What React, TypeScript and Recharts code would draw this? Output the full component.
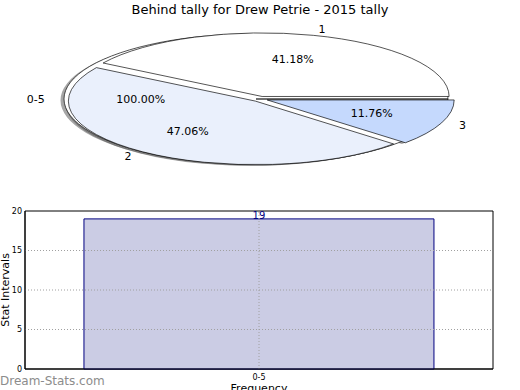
import React from "react"
import {
  PieChart,
  Pie,
  Cell,
  BarChart,
  Bar,
  XAxis,
  YAxis,
  ReferenceArea,
  ReferenceLine,
  LabelList,
} from "recharts"

// data
const sliceNames = ["1", "2", "3"]
const sliceValues = [7, 8, 2]
const sliceColors = ["#ffffff", "#eaf0fc", "#c5d9fd"]
const outerNames = ["0-5"]
const outerValues = [19]
const barCategories = ["0-5"]
const barValues = [19]
const yTicks = [0, 5, 10, 15, 20]

const innerData = sliceNames.map((name, i) => ({ name, value: sliceValues[i] }))
const outerData = outerNames.map((name, i) => ({ name, value: outerValues[i] }))
const barData = barCategories.map((name, i) => ({ name, count: barValues[i] }))

// ellipse geometry
const PIE_CX = 260
const PIE_CY = 99
const K = 0.34
const R_IN = 187
const R_OUT = 192
const E_IN = 7.7
const E_OUT = 4
const SH_DX = -3.5
const SH_DY = 1.3
const RAD = Math.PI / 180
const FONT = "'DejaVu Sans', sans-serif"

const total = sliceValues.reduce((a, b) => a + b, 0)
const mids: number[] = []
{
  let acc = 0
  sliceValues.forEach((v) => {
    mids.push(((acc + v / 2) / total) * 360)
    acc += v
  })
}

function makeLabel(r: number, e: number) {
  return (props: any) => {
    const { midAngle, percent, name } = props
    const c = Math.cos(midAngle * RAD)
    const s = Math.sin(midAngle * RAD)
    const ox = PIE_CX + e * c
    const oy = PIE_CY - K * e * s
    const lx = ox + 1.1 * r * c
    const ly = oy - K * 1.1 * r * s
    const px = ox + 0.6 * r * c
    const py = oy - K * 0.6 * r * s
    return (
      <g>
        <text x={lx} y={ly} textAnchor={c >= 0 ? "start" : "end"} dominantBaseline="central" fontSize={11} fill="#000" fontFamily={FONT}>
          {name}
        </text>
        <text x={px} y={py} textAnchor="middle" dominantBaseline="central" fontSize={11} fill="#000" fontFamily={FONT}>
          {(percent * 100).toFixed(2)}%
        </text>
      </g>
    )
  }
}

function PieShapes() {
  const cy = 260
  return (
    <PieChart width={520} height={520} margin={{ top: 0, right: 0, bottom: 0, left: 0 }}>
      {/* shadows */}
      <Pie
        data={outerData}
        dataKey="value"
        cx={PIE_CX - E_OUT + SH_DX}
        cy={cy + SH_DY / K}
        outerRadius={R_OUT}
        isAnimationActive={false}
        stroke="none"
      >
        {outerData.map((d) => (
          <Cell key={d.name} fill="#4d4d4d" fillOpacity={0.5} stroke="none" />
        ))}
      </Pie>
      {mids.map((m, i) => (
        <Pie
          key={"sh" + i}
          data={innerData}
          dataKey="value"
          cx={PIE_CX + E_IN * Math.cos(m * RAD) + SH_DX}
          cy={cy - E_IN * Math.sin(m * RAD) + SH_DY / K}
          outerRadius={R_IN}
          isAnimationActive={false}
        >
          {innerData.map((d, j) => (
            <Cell key={d.name} fill={j === i ? "#4d4d4d" : "none"} fillOpacity={0.5} stroke="none" />
          ))}
        </Pie>
      ))}
      {/* outer ring 0-5 */}
      <Pie
        data={outerData}
        dataKey="value"
        cx={PIE_CX - E_OUT}
        cy={cy}
        outerRadius={R_OUT}
        isAnimationActive={false}
      >
        {outerData.map((d) => (
          <Cell key={d.name} fill="#ffffff" stroke="#000" strokeWidth={1} vectorEffect="non-scaling-stroke" />
        ))}
      </Pie>
      {/* exploded slices */}
      {mids.map((m, i) => (
        <Pie
          key={"sl" + i}
          data={innerData}
          dataKey="value"
          cx={PIE_CX + E_IN * Math.cos(m * RAD)}
          cy={cy - E_IN * Math.sin(m * RAD)}
          outerRadius={R_IN}
          isAnimationActive={false}
        >
          {innerData.map((d, j) => (
            <Cell
              key={d.name}
              fill={j === i ? sliceColors[j] : "none"}
              stroke={j === i ? "#000" : "none"}
              strokeWidth={1}
              vectorEffect="non-scaling-stroke"
            />
          ))}
        </Pie>
      ))}
    </PieChart>
  )
}

function PieLabels() {
  return (
    <PieChart width={520} height={200} margin={{ top: 0, right: 0, bottom: 0, left: 0 }}>
      <Pie
        data={outerData}
        dataKey="value"
        cx={PIE_CX}
        cy={PIE_CY}
        outerRadius={10}
        fill="none"
        stroke="none"
        label={makeLabel(R_OUT, E_OUT)}
        labelLine={false}
        isAnimationActive={false}
      />
      <Pie
        data={innerData}
        dataKey="value"
        cx={PIE_CX}
        cy={PIE_CY}
        outerRadius={10}
        fill="none"
        stroke="none"
        label={makeLabel(R_IN, E_IN)}
        labelLine={false}
        isAnimationActive={false}
      />
    </PieChart>
  )
}

export default function App() {
  return (
    <div
      style={{
        position: "absolute",
        left: 0,
        top: 0,
        width: 520,
        height: 390,
        overflow: "hidden",
        background: "#fff",
        fontFamily: FONT,
      }}
    >
      <div
        style={{
          position: "absolute",
          left: 0,
          top: 0,
          width: 520,
          height: 520,
          transform: `translateY(${PIE_CY - 260}px) scaleY(${K})`,
          transformOrigin: "260px 260px",
        }}
      >
        <PieShapes />
      </div>
      <div style={{ position: "absolute", left: 0, top: 0 }}>
        <PieLabels />
      </div>
      <div
        style={{
          position: "absolute",
          left: 0,
          top: 2,
          width: 520,
          textAlign: "center",
          fontSize: 13,
          lineHeight: "16px",
          color: "#000",
        }}
      >
        Behind tally for Drew Petrie - 2015 tally
      </div>
      <div style={{ position: "absolute", left: 0, top: 200 }}>
        <BarChart
          width={520}
          height={190}
          data={barData}
          margin={{ top: 11, right: 27, left: 0, bottom: 0 }}
          barCategoryGap="12.6%"
        >
          <XAxis
            dataKey="name"
            height={21}
            tickLine={false}
            tickSize={0}
            tickMargin={5}
            axisLine={{ stroke: "#000" }}
            tick={{ fontSize: 8, fill: "#000" }}
            label={{ value: "Frequency", position: "bottom", offset: -6, style: { fontSize: 11, fill: "#000" } }}
          />
          <YAxis
            domain={[0, 20]}
            ticks={yTicks}
            width={25}
            tickLine={false}
            tickSize={0}
            tickMargin={3}
            axisLine={{ stroke: "#000" }}
            tick={{ fontSize: 8, fill: "#000" }}
            label={{ value: "Stat Intervals", angle: -90, position: "center", dx: -7, style: { fontSize: 11, fill: "#000" } }}
          />
          <Bar dataKey="count" fill="#cbcce4" stroke="#000080" strokeWidth={1} isAnimationActive={false}>
            <LabelList dataKey="count" position="top" offset={0} fill="#000080" fontSize={10} />
          </Bar>
          {yTicks.slice(1, -1).map((t) => (
            <ReferenceLine key={t} y={t} stroke="#a0a0a0" strokeDasharray="1 2" />
          ))}
          {barCategories.map((c) => (
            <ReferenceLine key={c} x={c} stroke="#a0a0a0" strokeDasharray="1 2" />
          ))}
          <ReferenceArea y1={0} y2={20} fill="none" stroke="#000" strokeWidth={1} />
        </BarChart>
      </div>
      <div
        style={{
          position: "absolute",
          left: 0,
          top: 374,
          fontSize: 12,
          lineHeight: "14px",
          color: "#8c8c8c",
        }}
      >
        Dream-Stats.com
      </div>
    </div>
  )
}
